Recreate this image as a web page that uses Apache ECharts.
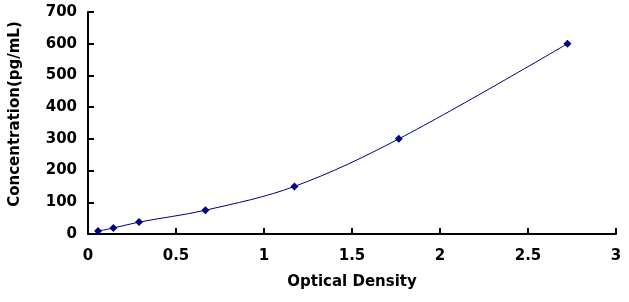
<!DOCTYPE html>
<html>
<head>
<meta charset="utf-8">
<script src="https://cdn.jsdelivr.net/npm/echarts@6/dist/echarts.min.js"></script>
<style>
  html, body { margin: 0; padding: 0; background: #fff; }
  #chart { width: 629px; height: 302px; }
</style>
</head>
<body>
<div id="chart"></div>
<script>
// standard curve points: optical density vs concentration
const opticalDensity = [0.057, 0.144, 0.29, 0.667, 1.173, 1.766, 2.724];
const concentration = [9.38, 18.75, 37.5, 75, 150, 300, 600];

const xTicks = { min: 0, max: 3, interval: 0.5 };
const yTicks = { min: 0, max: 700, interval: 100 };

const points = opticalDensity.map((od, i) => [od, concentration[i]]);

const labelFont = {
    fontFamily: '"DejaVu Sans", sans-serif',
    fontWeight: 'bold',
    fontSize: 15,
    color: '#000'
};

const axisCommon = {
    axisLine: { show: true, onZero: false, lineStyle: { color: '#000', width: 2 } },
    axisTick: { show: true, inside: true, length: 6, lineStyle: { color: '#000', width: 2 } },
    splitLine: { show: false },
    nameLocation: 'middle'
};

const chart = echarts.init(document.getElementById('chart'), null, { renderer: 'canvas' });

chart.setOption({
    animation: false,
    backgroundColor: '#fff',
    grid: { left: 88, right: 13, top: 12, bottom: 68 },
    xAxis: Object.assign({}, axisCommon, {
        type: 'value',
        min: xTicks.min,
        max: xTicks.max,
        interval: xTicks.interval,
        name: 'Optical Density',
        nameGap: 41,
        nameTextStyle: labelFont,
        axisLabel: Object.assign({ margin: 15 }, labelFont)
    }),
    yAxis: Object.assign({}, axisCommon, {
        type: 'value',
        min: yTicks.min,
        max: yTicks.max,
        interval: yTicks.interval,
        name: 'Concentration(pg/mL)',
        nameGap: 65,
        // nudge the rotated title a little toward the top, as in the source
        nameTextStyle: Object.assign({ padding: [0, 0, 0, 18] }, labelFont),
        axisLabel: Object.assign({ margin: 11 }, labelFont)
    }),
    series: [{
        type: 'line',
        data: points,
        smooth: 0.35,
        symbol: 'diamond',
        symbolSize: 8,
        lineStyle: { color: '#000080', width: 1 },
        itemStyle: { color: '#000080' }
    }]
});
</script>
</body>
</html>
